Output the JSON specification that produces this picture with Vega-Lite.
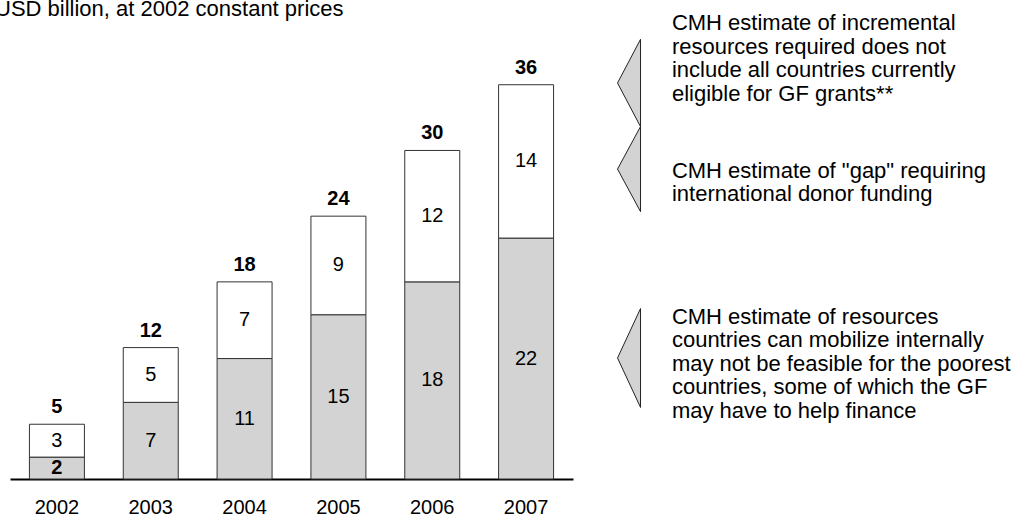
{
  "$schema": "https://vega.github.io/schema/vega-lite/v6.json",
  "padding": {"left": -5, "top": -2, "right": 0, "bottom": 10},
  "background": "white",
  "title": {"text": "USD billion, at 2002 constant prices", "anchor": "start", "fontSize": 22, "fontWeight": "normal", "color": "black", "offset": -22, "dx": -15},
  "config": {"font": "Liberation Sans", "view": {"stroke": null}},
  "bounds": "flush",
  "spacing": 27,
  "resolve": {"scale": {"y": "shared"}},
  "datasets": {
    "bars": [
      {"year": "2002", "internal": 2, "gap": 3, "total": 5},
      {"year": "2003", "internal": 7, "gap": 5, "total": 12},
      {"year": "2004", "internal": 11, "gap": 7, "total": 18},
      {"year": "2005", "internal": 15, "gap": 9, "total": 24},
      {"year": "2006", "internal": 18, "gap": 12, "total": 30},
      {"year": "2007", "internal": 22, "gap": 14, "total": 36}
    ],
    "notes": [
      {"id": "a", "tri": 36.16, "texty": 41.6, "label": "CMH estimate of incremental\nresources required does not\ninclude all countries currently\neligible for GF grants**"},
      {"id": "b", "tri": 28.3, "texty": 28.15, "label": "CMH estimate of \"gap\" requiring\ninternational donor funding"},
      {"id": "c", "tri": 11.05, "texty": 14.8, "label": "CMH estimate of resources\ncountries can mobilize internally\nmay not be feasible for the poorest\ncountries, some of which the GF\nmay have to help finance"}
    ]
  },
  "hconcat": [
    {
      "width": 563,
      "height": 480,
      "data": {"name": "bars"},
      "transform": [
        {"calculate": "datum.internal / 2", "as": "mid_internal"},
        {"calculate": "(datum.internal + datum.total) / 2", "as": "mid_gap"}
      ],
      "encoding": {
        "x": {"field": "year", "type": "ordinal", "scale": {"paddingInner": 0.414, "paddingOuter": 0.207},
          "axis": {"title": null, "ticks": false, "domainColor": "black", "domainWidth": 2, "labelFontSize": 20, "labelColor": "black", "labelPadding": 18, "labelAngle": 0}}
      },
      "layer": [
        {
          "mark": {"type": "bar", "fill": "#d3d3d3", "stroke": "#333333", "strokeWidth": 1},
          "encoding": {"y": {"field": "internal", "type": "quantitative", "scale": {"domain": [0, 43.83], "nice": false}, "axis": null}}
        },
        {
          "mark": {"type": "bar", "fill": "white", "stroke": "#333333", "strokeWidth": 1},
          "encoding": {"y": {"field": "internal", "type": "quantitative"}, "y2": {"field": "total"}}
        },
        {
          "transform": [{"filter": "datum.year != '2002'"}],
          "mark": {"type": "text", "fontSize": 20, "color": "black", "baseline": "middle"},
          "encoding": {"y": {"field": "mid_internal", "type": "quantitative"}, "text": {"field": "internal"}}
        },
        {
          "transform": [{"filter": "datum.year == '2002'"}],
          "mark": {"type": "text", "fontSize": 20, "fontWeight": "bold", "color": "black", "baseline": "middle"},
          "encoding": {"y": {"field": "mid_internal", "type": "quantitative"}, "text": {"field": "internal"}}
        },
        {
          "mark": {"type": "text", "fontSize": 20, "color": "black", "baseline": "middle"},
          "encoding": {"y": {"field": "mid_gap", "type": "quantitative"}, "text": {"field": "gap"}}
        },
        {
          "mark": {"type": "text", "fontSize": 20, "fontWeight": "bold", "color": "black", "baseline": "alphabetic", "dy": -11},
          "encoding": {"y": {"field": "total", "type": "quantitative"}, "text": {"field": "total"}}
        }
      ]
    },
    {
      "width": 423,
      "height": 480,
      "data": {"name": "notes"},
      "layer": [
        {
          "mark": {"type": "point", "filled": true, "fill": "#d3d3d3", "stroke": "#222222", "strokeWidth": 1, "opacity": 1, "fillOpacity": 1, "size": 529},
          "encoding": {
            "x": {"datum": 6.86, "type": "quantitative", "scale": {"domain": [0, 100], "nice": false}, "axis": null},
            "y": {"field": "tri", "type": "quantitative", "axis": null},
            "shape": {"field": "id", "type": "nominal", "legend": null,
              "scale": {"domain": ["a", "b", "c"], "range": ["M1,-3.8L-1,0L1,3.8Z", "M1,-3.7L-1,0L1,3.7Z", "M1,-4.3L-1,0L1,4.3Z"]}}
          }
        },
        {
          "mark": {"type": "text", "fontSize": 22, "color": "black", "align": "left", "baseline": "middle", "lineBreak": "\n", "lineHeight": 23.5},
          "encoding": {
            "x": {"datum": 17.0, "type": "quantitative"},
            "y": {"field": "texty", "type": "quantitative"},
            "text": {"field": "label"}
          }
        }
      ]
    }
  ]
}
